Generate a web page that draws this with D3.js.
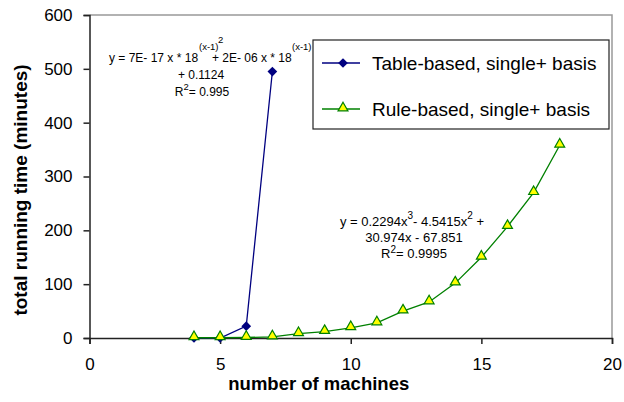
<!DOCTYPE html>
<html>
<head>
<meta charset="utf-8">
<style>
  body { margin: 0; background: #fff; }
  svg { display: block; font-family: "Liberation Sans", Arial, sans-serif; }
</style>
</head>
<body>
<script src="https://d3js.org/d3.v7.min.js"></script>
<script>

var width = 624,
    height = 402;
var margin = {"top": 15, "right": 12, "bottom": 64, "left": 89.5};

// data
var tableX = [4, 5, 6, 7];
var tableY = [0, 0, 22, 495];
var ruleX = [4, 5, 6, 7, 8, 9, 10, 11, 12, 13, 14, 15, 16, 17, 18];
var ruleY = [0.5, 0.5, 1, 2, 8, 12, 19, 28, 50, 67, 102, 150, 207, 270, 358];
var xTicks = [0, 5, 10, 15, 20];
var yTicks = [0, 100, 200, 300, 400, 500, 600];
var seriesNames = ["Table-based, single+ basis", "Rule-based, single+ basis"];

var svg = d3.select("body").append("svg")
    .attr("width", width)
    .attr("height", height);

var x = d3.scaleLinear().domain([0, 20]).range([margin.left, width - margin.right]);
var y = d3.scaleLinear().domain([0, 600]).range([height - margin.bottom, margin.top]);

// plot frame: top and right in grey
svg.append("path")
    .attr("d", "M" + x(0) + "," + y(600) + "H" + x(20) + "V" + y(0))
    .attr("fill", "none")
    .attr("stroke", "#999")
    .attr("stroke-width", 1.5);

// axes
var xAxis = svg.append("g")
    .attr("transform", "translate(0," + y(0) + ")")
    .call(d3.axisBottom(x).tickValues(xTicks).tickSize(6).tickPadding(14));
var yAxis = svg.append("g")
    .attr("transform", "translate(" + x(0) + ",0)")
    .call(d3.axisLeft(y).tickValues(yTicks).tickSize(6).tickPadding(11));

[xAxis, yAxis].forEach(function(a) {
  a.select(".domain").attr("stroke", "#222").attr("stroke-width", 1.5);
  a.selectAll(".tick line").attr("stroke", "#222").attr("stroke-width", 1.5);
  a.selectAll(".tick text").attr("fill", "#000").style("font-size", "17px")
    .style("font-family", "Liberation Sans, Arial, sans-serif");
});

// axis titles
svg.append("text")
    .attr("x", (x(0) + x(20)) / 2 - 32)
    .attr("y", 390)
    .attr("text-anchor", "middle")
    .style("font-size", "18.5px")
    .style("font-weight", "bold")
    .text("number of machines");

svg.append("text")
    .attr("transform", "translate(27,190) rotate(-90)")
    .attr("text-anchor", "middle")
    .style("font-size", "19px")
    .style("font-weight", "bold")
    .text("total running time (minutes)");

var line = d3.line()
    .x(function(d) { return x(d[0]); })
    .y(function(d) { return y(d[1]); });

var tableData = tableX.map(function(v, i) { return [v, tableY[i]]; });
var ruleData = ruleX.map(function(v, i) { return [v, ruleY[i]]; });

var diamond = d3.symbol().type(d3.symbolDiamond2).size(60);
var triangle = d3.symbol().type(d3.symbolTriangle2).size(70);

// table-based series
svg.append("path")
    .datum(tableData)
    .attr("d", line)
    .attr("fill", "none")
    .attr("stroke", "#000080")
    .attr("stroke-width", 1.3);

svg.selectAll(".diamond")
    .data(tableData)
    .enter().append("path")
    .attr("class", "diamond")
    .attr("transform", function(d) { return "translate(" + x(d[0]) + "," + y(d[1]) + ")"; })
    .attr("d", diamond)
    .attr("fill", "#000080");

// rule-based series
svg.append("path")
    .datum(ruleData)
    .attr("d", line)
    .attr("fill", "none")
    .attr("stroke", "#008000")
    .attr("stroke-width", 1.3);

svg.selectAll(".tri")
    .data(ruleData)
    .enter().append("path")
    .attr("class", "tri")
    .attr("transform", function(d) { return "translate(" + x(d[0]) + "," + (y(d[1]) - 1) + ")"; })
    .attr("d", triangle)
    .attr("fill", "#ffff00")
    .attr("stroke", "#008000")
    .attr("stroke-width", 1.2);

// trendline equations
var eq1 = svg.append("g").style("font-size", "12px").attr("text-anchor", "start");
var l1 = eq1.append("text").attr("y", 62);
l1.append("tspan").attr("x", 109).text("y = 7E- 17 x * 18");
l1.append("tspan").attr("x", 199).attr("y", 50).style("font-size", "9.5px").text("(x-1)");
l1.append("tspan").attr("x", 218).attr("y", 43).style("font-size", "9.5px").text("2");
l1.append("tspan").attr("x", 212).attr("y", 62).text("+ 2E- 06 x * 18");
l1.append("tspan").attr("x", 292).attr("y", 50).style("font-size", "9.5px").text("(x-1)");
eq1.append("text").attr("x", 201).attr("y", 79).attr("text-anchor", "middle").text("+ 0.1124");
var r1 = eq1.append("text").attr("x", 202).attr("y", 96).attr("text-anchor", "middle");
r1.append("tspan").text("R");
r1.append("tspan").attr("dy", -6).style("font-size", "9.5px").text("2");
r1.append("tspan").attr("dy", 6).text("= 0.995");

var eq2 = svg.append("g").style("font-size", "13px").attr("text-anchor", "middle");
var l2 = eq2.append("text").attr("x", 412).attr("y", 226);
l2.append("tspan").text("y = 0.2294x");
l2.append("tspan").attr("dy", -7).style("font-size", "10px").text("3");
l2.append("tspan").attr("dy", 7).text("- 4.5415x");
l2.append("tspan").attr("dy", -7).style("font-size", "10px").text("2");
l2.append("tspan").attr("dy", 7).text(" +");
eq2.append("text").attr("x", 414).attr("y", 242).text("30.974x - 67.851");
var r2 = eq2.append("text").attr("x", 414).attr("y", 258);
r2.append("tspan").text("R");
r2.append("tspan").attr("dy", -5).style("font-size", "10px").text("2");
r2.append("tspan").attr("dy", 5).text("= 0.9995");

// legend
var legend = svg.append("g").attr("transform", "translate(313,40)");
legend.append("rect")
    .attr("width", 296)
    .attr("height", 89)
    .attr("fill", "#fff")
    .attr("stroke", "#222")
    .attr("stroke-width", 1.2);

var colorsLine = ["#000080", "#008000"];
seriesNames.forEach(function(name, i) {
  var g = legend.append("g").attr("transform", "translate(0," + (23 + i * 46) + ")");
  g.append("line").attr("x1", 9).attr("x2", 47).attr("stroke", colorsLine[i]).attr("stroke-width", 1.3);
  if (i === 0) {
    g.append("path").attr("d", diamond).attr("transform", "translate(30,0)").attr("fill", "#000080");
  } else {
    g.append("path").attr("d", triangle).attr("transform", "translate(30,-1)")
      .attr("fill", "#ffff00").attr("stroke", "#008000").attr("stroke-width", 1.2);
  }
  g.append("text")
      .attr("x", 59)
      .attr("y", 7)
      .style("font-size", "19px")
      .text(name);
});

</script>
</body>
</html>
